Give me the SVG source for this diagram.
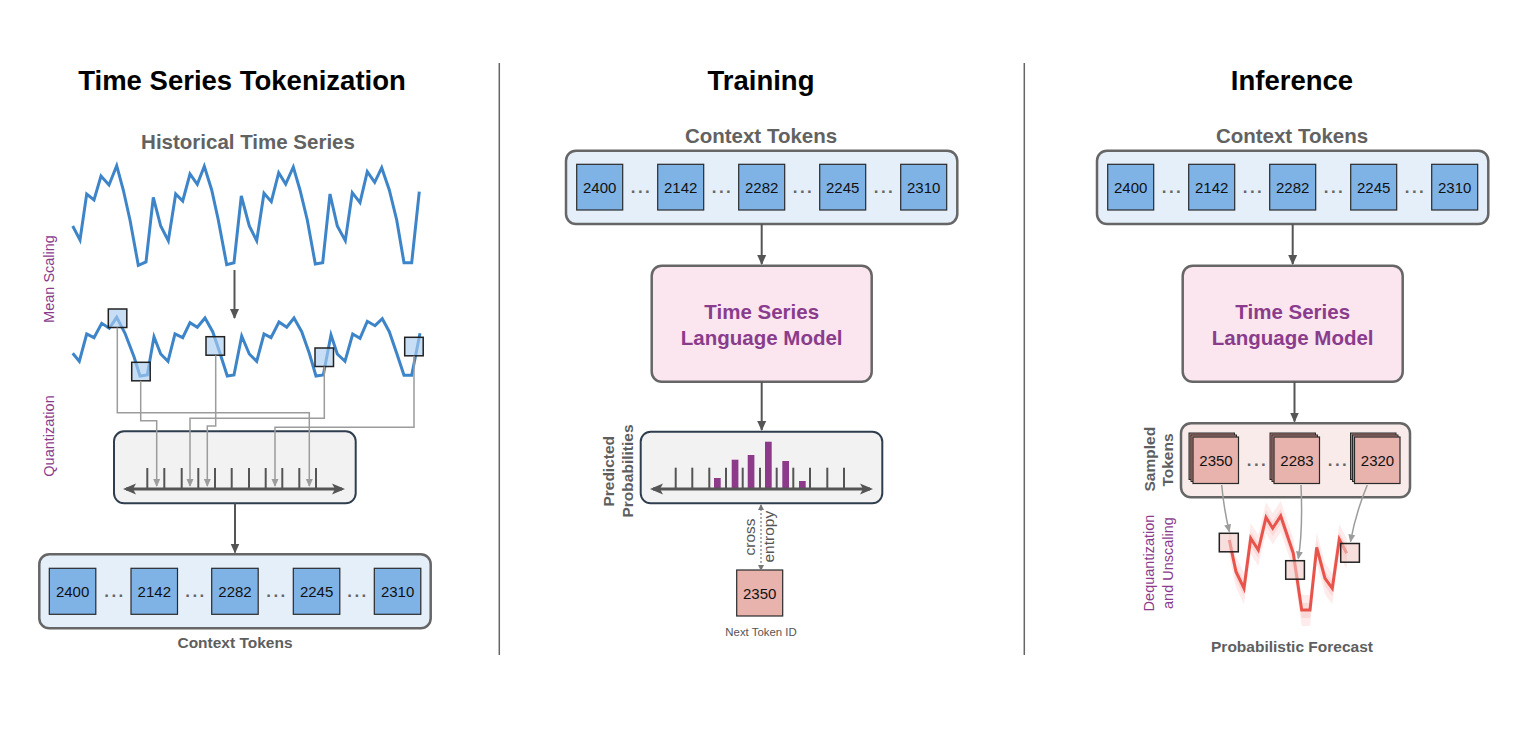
<svg xmlns="http://www.w3.org/2000/svg" width="1536" height="746" viewBox="0 0 1536 746">
<defs>
<style>
text{font-family:"Liberation Sans",Arial,sans-serif}
.title{font-size:27.5px;font-weight:bold;fill:#000;text-anchor:middle}
.sub{font-size:20.5px;font-weight:bold;fill:#626262;text-anchor:middle}
.lbl{font-size:15.5px;font-weight:bold;fill:#5e5e5e;text-anchor:middle}
.plab{font-size:14.5px;fill:#8a3c8c;text-anchor:middle}
.tok{font-size:15px;fill:#111;text-anchor:middle}
.dots{font-size:17px;font-weight:bold;fill:#666;text-anchor:middle;letter-spacing:2.5px}
.tokbox{fill:#7fb3e6;stroke:#2a2a2a;stroke-width:1.2}
.pinkbox{fill:#e8b2ad;stroke:#2a2a2a;stroke-width:1.2}
.back1{fill:#b07874;stroke:#2a2a2a;stroke-width:1}
.back2{fill:#c48a86;stroke:#2a2a2a;stroke-width:1}
.ctx{fill:#e5eff9;stroke:#666;stroke-width:2.5}
.lm{fill:#fbe5ef;stroke:#666;stroke-width:2.5}
.lmt{font-size:20.5px;font-weight:bold;fill:#8a3c8c;text-anchor:middle}
.qbox{fill:#f2f2f3;stroke:#2f3e4e;stroke-width:2}
.tick{stroke:#555;stroke-width:2}
.axis{stroke:#555;stroke-width:3;fill:none}
.main{stroke:#555;stroke-width:2;fill:none}
.thin{stroke:#9c9c9c;stroke-width:1.5;fill:none}
.series{stroke:#3d85c8;stroke-width:3;fill:none;stroke-linejoin:miter}
.msq{fill:#a9cdf0;fill-opacity:0.65;stroke:#222;stroke-width:1.5}
.rsq{fill:#f2c9c6;fill-opacity:0.6;stroke:#222;stroke-width:1.5}
.bar{fill:#8e3a8a}
</style>
<marker id="ah" markerWidth="10" markerHeight="10" refX="9" refY="5" orient="auto" markerUnits="userSpaceOnUse">
<path d="M0,0.5 L10,5 L0,9.5 z" fill="#555"/>
</marker>
<marker id="ahg" markerWidth="8" markerHeight="8" refX="7" refY="4" orient="auto" markerUnits="userSpaceOnUse">
<path d="M0,0.5 L8,4 L0,7.5 z" fill="#9c9c9c"/>
</marker>
<marker id="aha" markerWidth="13" markerHeight="12" refX="10" refY="6" orient="auto-start-reverse" markerUnits="userSpaceOnUse">
<path d="M0,0.5 L13,6 L0,11.5 L3,6 z" fill="#555"/>
</marker>
<marker id="ahs" markerWidth="6" markerHeight="6" refX="5" refY="3" orient="auto-start-reverse" markerUnits="userSpaceOnUse">
<path d="M0,0 L6,3 L0,6 z" fill="#777"/>
</marker>
</defs>
<rect width="1536" height="746" fill="#fff"/>

<g id="separators">
<line x1="499.3" y1="63" x2="499.3" y2="655" stroke="#666" stroke-width="1.5"/>
<line x1="1024.3" y1="63" x2="1024.3" y2="655" stroke="#666" stroke-width="1.5"/>
</g>

<g id="titles">
<text class="title" x="242" y="90">Time Series Tokenization</text>
<text class="title" x="761" y="90">Training</text>
<text class="title" x="1292" y="90">Inference</text>
</g>

<!-- LEFT PANEL -->
<g id="historical">
<text class="sub" x="248" y="148.5">Historical Time Series</text>
<polyline class="series" points="72.7,226 80,240 86.7,194 94,200 101,176 109,185 116.7,165.7 123.3,190 130,220 138.3,265.3 146,262 153.3,197.3 160.7,226 168.3,240.7 175.7,194 182.7,201 190,174 197.3,184.3 204.3,166.3 211.7,190 218.3,220 226.7,264.7 234,262.7 241.3,196 249.3,226 256.7,240.7 264,193.3 271.3,201.7 278.7,172.7 285.7,184 293.3,167 300,190 307.3,220 315.3,264 322.7,262.7 330,194 337.3,226 345.3,240.7 352.3,192.7 360,202.7 367.3,171.7 374.7,182.3 381.7,167.7 389.3,190 396.7,220 404,262.7 411.7,262.7 419.3,191.7"/>
</g>
<g id="mean-scaling-label">
<text class="plab" transform="translate(53.7,279) rotate(-90)">Mean Scaling</text>
</g>
<g id="quantization-label">
<text class="plab" transform="translate(53.7,436) rotate(-90)">Quantization</text>
</g>
<g id="scaled-series">
<polyline class="series" points="72.7,353.3 79.3,361.3 86.7,334 94,337.7 101.7,323.3 109.3,328.3 116.7,317.3 125,333.3 134,356.7 140,376 147.3,375 154,336.7 160.7,354 168,361.3 175,334 182.7,337.7 190,322.7 197.3,327.3 205,318 212.7,331.7 220,353.3 227.3,376 234,375 241.7,336 249.3,354 256.7,361.3 264,334 271,337.7 279,322 286.7,327.3 294,318 301.7,331.7 309.3,353.3 316,376 323.3,375 331,335 337.3,354 345,361.3 352.7,334 360,338.3 367.3,321.3 375,325.7 382.3,318.7 389.3,331.7 396.7,353.3 404,375.3 411.7,375.3 420,333.3"/>
<rect class="msq" x="108.3" y="309" width="18.5" height="18.5"/>
<rect class="msq" x="131.7" y="362.3" width="18.5" height="18.5"/>
<rect class="msq" x="206" y="336.7" width="18.5" height="18.5"/>
<rect class="msq" x="315" y="348" width="18.5" height="18.5"/>
<rect class="msq" x="404.7" y="337.3" width="18.5" height="18.5"/>
</g>
<g id="quantizer">
<rect class="qbox" x="114" y="431.3" width="241.7" height="72" rx="10"/>
<line class="tick" x1="147.3" y1="468" x2="147.3" y2="489"/>
<line class="tick" x1="164.3" y1="468" x2="164.3" y2="489"/>
<line class="tick" x1="181.7" y1="468" x2="181.7" y2="489"/>
<line class="tick" x1="198.3" y1="468" x2="198.3" y2="489"/>
<line class="tick" x1="215" y1="468" x2="215" y2="489"/>
<line class="tick" x1="231.7" y1="468" x2="231.7" y2="489"/>
<line class="tick" x1="249" y1="468" x2="249" y2="489"/>
<line class="tick" x1="265.7" y1="468" x2="265.7" y2="489"/>
<line class="tick" x1="282.3" y1="468" x2="282.3" y2="489"/>
<line class="tick" x1="299.3" y1="468" x2="299.3" y2="489"/>
<line class="tick" x1="316" y1="468" x2="316" y2="489"/>
<line class="axis" x1="126" y1="489" x2="342" y2="489" marker-start="url(#aha)" marker-end="url(#aha)"/>
</g>
<g id="left-context-tokens">
<rect class="ctx" x="39.3" y="554.3" width="391.4" height="74" rx="10"/>
<rect class="tokbox" x="49.3" y="568.3" width="46.5" height="46"/><text class="tok" x="72.6" y="596.5">2400</text>
<text class="dots" x="115" y="596.5">...</text>
<rect class="tokbox" x="131" y="568.3" width="46.5" height="46"/><text class="tok" x="154.3" y="596.5">2142</text>
<text class="dots" x="196" y="596.5">...</text>
<rect class="tokbox" x="211.7" y="568.3" width="46.5" height="46"/><text class="tok" x="235" y="596.5">2282</text>
<text class="dots" x="277" y="596.5">...</text>
<rect class="tokbox" x="293.3" y="568.3" width="46.5" height="46"/><text class="tok" x="316.6" y="596.5">2245</text>
<text class="dots" x="358" y="596.5">...</text>
<rect class="tokbox" x="374.3" y="568.3" width="46.5" height="46"/><text class="tok" x="397.6" y="596.5">2310</text>
<text class="lbl" x="235" y="647.5">Context Tokens</text>
</g>

<!-- MIDDLE PANEL -->
<g id="mid-context-tokens">
<text class="sub" x="761" y="142.5">Context Tokens</text>
<rect class="ctx" x="566" y="150.7" width="391.3" height="73.3" rx="10"/>
<rect class="tokbox" x="576.7" y="164.3" width="46" height="45.7"/><text class="tok" x="599.7" y="192.7">2400</text>
<text class="dots" x="641.5" y="192.7">...</text>
<rect class="tokbox" x="657.7" y="164.3" width="46" height="45.7"/><text class="tok" x="680.7" y="192.7">2142</text>
<text class="dots" x="722.5" y="192.7">...</text>
<rect class="tokbox" x="738.7" y="164.3" width="46" height="45.7"/><text class="tok" x="761.7" y="192.7">2282</text>
<text class="dots" x="803.5" y="192.7">...</text>
<rect class="tokbox" x="819.7" y="164.3" width="46" height="45.7"/><text class="tok" x="842.7" y="192.7">2245</text>
<text class="dots" x="884.5" y="192.7">...</text>
<rect class="tokbox" x="900.7" y="164.3" width="46" height="45.7"/><text class="tok" x="923.7" y="192.7">2310</text>
</g>
<g id="mid-lm">
<rect class="lm" x="651.7" y="265.7" width="220" height="116" rx="10"/>
<text class="lmt" x="761.7" y="318.5">Time Series</text>
<text class="lmt" x="761.7" y="345">Language Model</text>
</g>
<g id="predicted-probabilities">
<text class="lbl" transform="translate(614.4,471.3) rotate(-90)">Predicted</text>
<text class="lbl" transform="translate(633.4,471) rotate(-90)">Probabilities</text>
<rect class="qbox" x="640.7" y="431.7" width="241.6" height="71.6" rx="10"/>
<rect class="bar" x="714" y="478" width="6.7" height="11"/>
<rect class="bar" x="731.7" y="459.7" width="6.7" height="29.3"/>
<rect class="bar" x="747.7" y="455" width="6.7" height="34"/>
<rect class="bar" x="765" y="441.7" width="6.7" height="47.3"/>
<rect class="bar" x="782.3" y="461" width="6.7" height="28"/>
<rect class="bar" x="799" y="481" width="6.7" height="8"/>
<line class="tick" x1="675.7" y1="467.7" x2="675.7" y2="489"/>
<line class="tick" x1="692.3" y1="467.7" x2="692.3" y2="489"/>
<line class="tick" x1="709.3" y1="467.7" x2="709.3" y2="489"/>
<line class="tick" x1="726" y1="467.7" x2="726" y2="489"/>
<line class="tick" x1="742.7" y1="467.7" x2="742.7" y2="489"/>
<line class="tick" x1="760" y1="467.7" x2="760" y2="489"/>
<line class="tick" x1="776.7" y1="467.7" x2="776.7" y2="489"/>
<line class="tick" x1="793.3" y1="467.7" x2="793.3" y2="489"/>
<line class="tick" x1="810" y1="467.7" x2="810" y2="489"/>
<line class="tick" x1="827.3" y1="467.7" x2="827.3" y2="489"/>
<line class="tick" x1="844" y1="467.7" x2="844" y2="489"/>
<line class="axis" x1="653" y1="489" x2="870" y2="489" marker-start="url(#aha)" marker-end="url(#aha)"/>
</g>
<g id="cross-entropy-label">
<text transform="translate(755,537) rotate(-90)" style="font-size:15.5px;fill:#555;text-anchor:middle">cross</text>
<text transform="translate(774,536.7) rotate(-90)" style="font-size:15.5px;fill:#555;text-anchor:middle">entropy</text>
</g>
<g id="next-token">
<rect class="pinkbox" x="736.7" y="570" width="46" height="46"/>
<text class="tok" x="759.7" y="598.5">2350</text>
<text x="761" y="635.5" style="font-size:11.4px;fill:#555;text-anchor:middle">Next Token ID</text>
</g>

<!-- RIGHT PANEL -->
<g id="right-context-tokens">
<text class="sub" x="1292" y="142.5">Context Tokens</text>
<rect class="ctx" x="1097" y="150.7" width="391.3" height="73.3" rx="10"/>
<rect class="tokbox" x="1107.7" y="164.3" width="46" height="45.7"/><text class="tok" x="1130.7" y="192.7">2400</text>
<text class="dots" x="1172.5" y="192.7">...</text>
<rect class="tokbox" x="1188.7" y="164.3" width="46" height="45.7"/><text class="tok" x="1211.7" y="192.7">2142</text>
<text class="dots" x="1253.5" y="192.7">...</text>
<rect class="tokbox" x="1269.7" y="164.3" width="46" height="45.7"/><text class="tok" x="1292.7" y="192.7">2282</text>
<text class="dots" x="1334.5" y="192.7">...</text>
<rect class="tokbox" x="1350.7" y="164.3" width="46" height="45.7"/><text class="tok" x="1373.7" y="192.7">2245</text>
<text class="dots" x="1415.5" y="192.7">...</text>
<rect class="tokbox" x="1431.7" y="164.3" width="46" height="45.7"/><text class="tok" x="1454.7" y="192.7">2310</text>
</g>
<g id="right-lm">
<rect class="lm" x="1182.7" y="265.7" width="220" height="116" rx="10"/>
<text class="lmt" x="1292.7" y="318.5">Time Series</text>
<text class="lmt" x="1292.7" y="345">Language Model</text>
</g>
<g id="sampled-tokens">
<text class="lbl" transform="translate(1154.7,459.2) rotate(-90)">Sampled</text>
<text class="lbl" transform="translate(1173.4,460) rotate(-90)">Tokens</text>
<rect x="1181" y="423.3" width="229" height="74" rx="10" fill="#f9ebea" stroke="#666" stroke-width="2.5"/>
<rect class="back1" x="1189" y="433" width="45.5" height="46.5"/>
<rect class="back2" x="1191" y="435" width="45.5" height="46.5"/>
<rect class="pinkbox" x="1193" y="437" width="45.5" height="46.5"/>
<text class="tok" x="1216" y="465.8">2350</text>
<text class="dots" x="1257.5" y="465.8">...</text>
<rect class="back1" x="1270" y="433" width="45.5" height="46.5"/>
<rect class="back2" x="1272" y="435" width="45.5" height="46.5"/>
<rect class="pinkbox" x="1274" y="437" width="45.5" height="46.5"/>
<text class="tok" x="1297" y="465.8">2283</text>
<text class="dots" x="1338.5" y="465.8">...</text>
<rect class="back1" x="1350.5" y="433" width="45.5" height="46.5"/>
<rect class="back2" x="1352.5" y="435" width="45.5" height="46.5"/>
<rect class="pinkbox" x="1354.5" y="437" width="45.5" height="46.5"/>
<text class="tok" x="1377.5" y="465.8">2320</text>
</g>
<g id="dequant-label">
<text class="plab" transform="translate(1153.7,563) rotate(-90)">Dequantization</text>
<text class="plab" transform="translate(1172.7,563) rotate(-90)">and Unscaling</text>
</g>
<g id="forecast">
<polygon fill="#fdeceb" points="1229.3,525 1236,556.7 1244,573.3 1250.7,523.3 1258.3,535 1266,502.3 1272.7,513.3 1280.7,501 1293.3,538.3 1301.7,595 1310,595 1316.7,532.3 1325,563.3 1332.3,573.3 1339.3,524.3 1346.7,538.3 1346.7,569.3 1339.3,555.3 1332.3,604.3 1325,594.3 1316.7,563.3 1310,626 1301.7,626 1293.3,569.3 1280.7,532 1272.7,544.3 1266,533.3 1258.3,566 1250.7,554.3 1244,604.3 1236,587.7 1229.3,556"/>
<polygon fill="#fadad8" points="1229.3,533 1236,564.7 1244,581.3 1250.7,531.3 1258.3,543 1266,510.3 1272.7,521.3 1280.7,509 1293.3,546.3 1301.7,603 1310,603 1316.7,540.3 1325,571.3 1332.3,581.3 1339.3,532.3 1346.7,546.3 1346.7,561.3 1339.3,547.3 1332.3,596.3 1325,586.3 1316.7,555.3 1310,618 1301.7,618 1293.3,561.3 1280.7,524 1272.7,536.3 1266,525.3 1258.3,558 1250.7,546.3 1244,596.3 1236,579.7 1229.3,548"/>
<polyline points="1229.3,540 1236,571.7 1244,588.3 1250.7,538.3 1258.3,550 1266,517.3 1272.7,528.3 1280.7,516 1293.3,553.3 1301.7,610 1310,610 1316.7,547.3 1325,578.3 1332.3,588.3 1339.3,539.3 1346.7,553.3" fill="none" stroke="#e8544c" stroke-width="3" stroke-linejoin="miter"/>
<rect class="rsq" x="1219.3" y="533.3" width="19" height="18.5"/>
<rect class="rsq" x="1285.7" y="560.7" width="18.7" height="18.5"/>
<rect class="rsq" x="1340.7" y="543.5" width="18.7" height="18.7"/>
<text class="lbl" x="1292" y="652">Probabilistic Forecast</text>
</g>

<g id="connectors">
<line class="main" x1="234.5" y1="270" x2="234.5" y2="318" marker-end="url(#ah)"/>
<line class="main" x1="235" y1="503.5" x2="235" y2="552.5" marker-end="url(#ah)"/>
<polyline class="thin" points="117.3,327.5 117.3,412.7 309.3,412.7 309.3,486" marker-end="url(#ahg)"/>
<polyline class="thin" points="140.7,380.8 140.7,420.7 156.7,420.7 156.7,486" marker-end="url(#ahg)"/>
<polyline class="thin" points="215.7,355.2 215.7,426 207.3,426 207.3,486" marker-end="url(#ahg)"/>
<polyline class="thin" points="324.3,366.5 324.3,418.3 190,418.3 190,486" marker-end="url(#ahg)"/>
<polyline class="thin" points="414,355.8 414,427.3 275,427.3 275,486" marker-end="url(#ahg)"/>
<line class="main" x1="761.7" y1="224" x2="761.7" y2="264" marker-end="url(#ah)"/>
<line class="main" x1="761.7" y1="381.7" x2="761.7" y2="430" marker-end="url(#ah)"/>
<line x1="761" y1="505" x2="761" y2="570" stroke="#777" stroke-width="1.2" stroke-dasharray="2,2" marker-start="url(#ahs)" marker-end="url(#ahs)"/>
<line class="main" x1="1292.7" y1="224" x2="1292.7" y2="264" marker-end="url(#ah)"/>
<line class="main" x1="1294.5" y1="381.7" x2="1294.5" y2="421.5" marker-end="url(#ah)"/>
<path class="thin" d="M1221.7,485 Q1224,510 1229.3,531.5" marker-end="url(#ahg)"/>
<path class="thin" d="M1301,485 Q1303,530 1298.3,558.5" marker-end="url(#ahg)"/>
<path class="thin" d="M1367.3,485 Q1356,512 1350.5,541.5" marker-end="url(#ahg)"/>
</g>
</svg>
